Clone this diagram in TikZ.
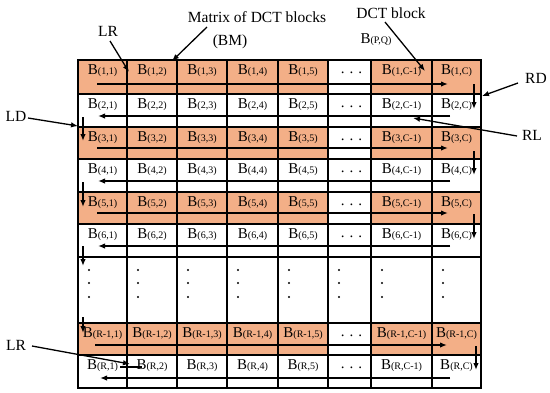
\documentclass[tikz,border=0pt]{standalone}
\usepackage{fontspec}
\setmainfont{Liberation Serif}
\usetikzlibrary{arrows.meta}
\definecolor{cellorange}{RGB}{243,175,135}
\tikzset{
  btext/.style={anchor=base, inner sep=0pt, font=\fontsize{15}{15}\selectfont},
  lbl/.style={anchor=base, inner sep=0pt, font=\fontsize{15.5}{16}\selectfont},
  trav/.style={line width=1.4pt, -{Latex[length=7pt,width=5.5pt]}},
  pointer/.style={line width=1.3pt, -{Latex[length=7pt,width=5.5pt]}},
  gridline/.style={draw=black, line width=1.1pt},
  dotmark/.style={fill=black, circle, inner sep=0pt, minimum size=2.2pt},
}
\newcommand{\blk}[1]{B{\fontsize{10}{10}\selectfont(#1)}}
\begin{document}
\begin{tikzpicture}[x=1pt,y=-1pt]
\useasboundingbox (0,0) rectangle (550,392);
% cells
\foreach \r/\yt/\yb/\rl/\fc in {1/60/94/1/cellorange, 2/94/127/2/white, 3/127/159/3/cellorange, 4/159/192/4/white, 5/192/224/5/cellorange, 6/224/257/6/white, 7/257/323/{}/white, 8/323/355/{R-1}/cellorange, 9/355/388/R/white}{
  \foreach \c/\xl/\xr/\lab in {1/78/127/1, 2/127/177/2, 3/177/227/3, 4/227/278/4, 5/278/328/5, 6/328/371/{}, 7/371/432/{C-1}, 8/432/481/C}{
    \ifnum\c=6 \def\ff{white}\else\def\ff{\fc}\fi
    \path[gridline, fill=\ff] (\xl,\yt) rectangle (\xr,\yb);
    \ifnum\r=7
      \node[dotmark] (d1-\c) at (\xl+11,270) {};
      \node[dotmark] (d2-\c) at (\xl+11,283) {};
      \node[dotmark] (d3-\c) at (\xl+11,297) {};
    \else
      \ifnum\c=6
        \node[btext] (b-\r-\c) at ({(\xl+\xr)/2+2},\yt+13) {. . .};
      \else
        \node[btext] (b-\r-\c) at ({(\xl+\xr)/2},\yt+14.5) {\blk{\rl,\lab}};
      \fi
    \fi
  }
}
% traversal arrows
\coordinate (a1s) at (97,84);   \coordinate (a1e) at (448,84);
\coordinate (v1s) at (474,84);  \coordinate (v1e) at (474,109);
\coordinate (a2s) at (450,116); \coordinate (a2e) at (98,116);
\coordinate (u1s) at (83,117);  \coordinate (u1e) at (83,141);
\coordinate (a3s) at (97,148);  \coordinate (a3e) at (448,148);
\coordinate (v2s) at (474,151); \coordinate (v2e) at (474,175);
\coordinate (a4s) at (450,181); \coordinate (a4e) at (98,181);
\coordinate (u2s) at (83,182);  \coordinate (u2e) at (83,207);
\coordinate (a5s) at (97,213);  \coordinate (a5e) at (448,213);
\coordinate (v3s) at (474,214); \coordinate (v3e) at (474,239);
\coordinate (a6s) at (450,246); \coordinate (a6e) at (98,246);
\coordinate (u3s) at (83,246);  \coordinate (u3e) at (83,266);
\coordinate (u4s) at (83,317);  \coordinate (u4e) at (83,333);
\coordinate (a7s) at (95,345);  \coordinate (a7e) at (447,345);
\coordinate (v4s) at (476,346); \coordinate (v4e) at (476,370);
\coordinate (a8s) at (450,378); \coordinate (a8e) at (100,378);
\coordinate (sgs) at (120,367); \coordinate (sge) at (142,367);
\foreach \p in {a1,v1,a2,u1,a3,v2,a4,u2,a5,v3,a6,u3,u4,a7,v4,a8}{
  \draw[trav] (\p s) -- (\p e);
}
\draw[line width=1.4pt] (sgs) -- (sge);
% labels
\node[lbl] (lrtop) at (108,36) {LR};
\node[lbl] (matrix) at (257,22) {Matrix of DCT blocks};
\node[lbl] (bm) at (230,45) {(BM)};
\node[lbl] (dctb) at (391,18) {DCT block};
\node[btext] (bpq) at (376,43) {\blk{P,Q}};
\node[lbl] (rd) at (536,83) {RD};
\node[lbl] (rl) at (532,140) {RL};
\node[lbl] (ld) at (16,121) {LD};
\node[lbl] (lrbot) at (16,350) {LR};
% pointer arrows
\coordinate (p1s) at (110,41);  \coordinate (p1e) at (129,72);
\coordinate (p2s) at (207,27);  \coordinate (p2e) at (172,61);
\coordinate (p3s) at (385,22);  \coordinate (p3e) at (425,71);
\coordinate (p4s) at (518,83);  \coordinate (p4e) at (482,96);
\coordinate (p5s) at (517,136); \coordinate (p5e) at (413,118);
\coordinate (p6s) at (28,118);  \coordinate (p6e) at (78,126);
\coordinate (p7s) at (32,346);  \coordinate (p7e) at (130,364);
\foreach \p in {p1,p2,p3,p4,p5,p6,p7}{
  \draw[pointer] (\p s) -- (\p e);
}
\end{tikzpicture}
\end{document}
